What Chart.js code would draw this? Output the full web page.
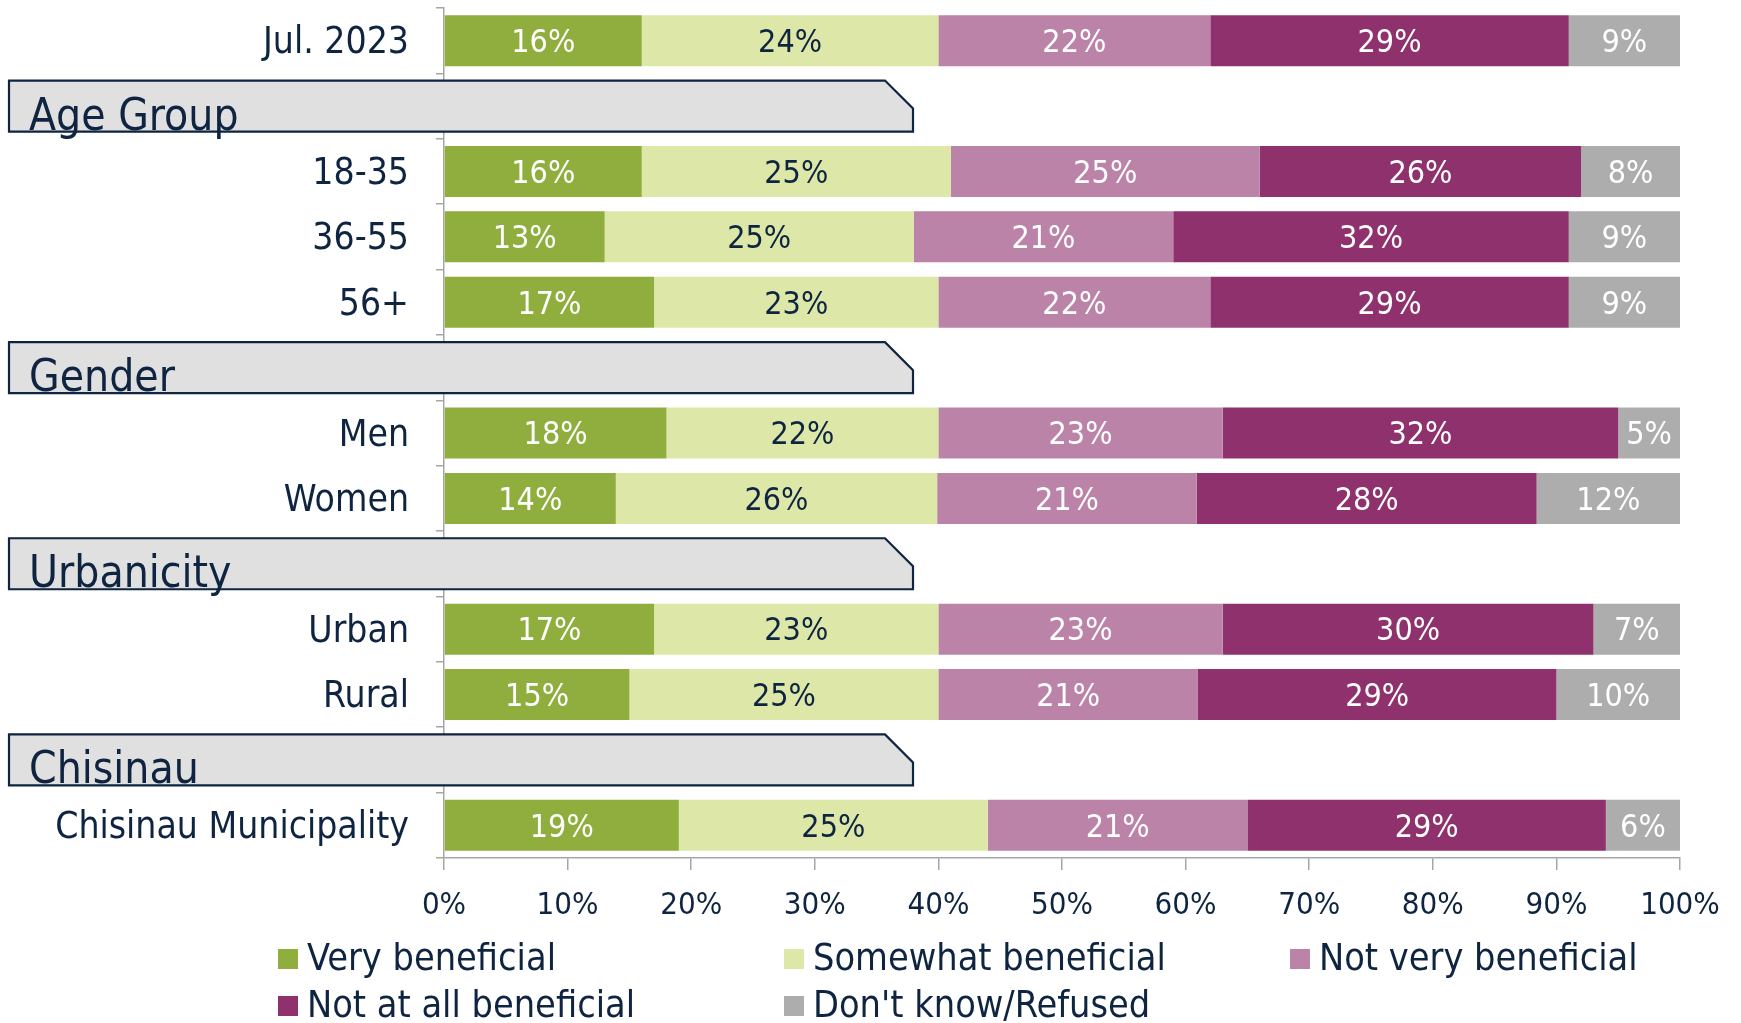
<!DOCTYPE html>
<html lang="en">
<head>
    <meta charset="UTF-8">
    <title>Perceived benefit by group</title>
    <script src="https://cdn.jsdelivr.net/npm/chart.js"></script>
    <style>
        body { margin: 0; background: #fff; }
        #wrap { width: 1741px; height: 1023px; position: relative; }
    </style>
</head>
<body>
    <div id="wrap">
        <canvas id="grafico"></canvas>
    </div>

<script>
    // categories (section headers are rows with no bars)
    const categories = ['Jul. 2023', 'Age Group', '18-35', '36-55', '56+', 'Gender', 'Men', 'Women',
        'Urbanicity', 'Urban', 'Rural', 'Chisinau', 'Chisinau Municipality'];
    const isHeader = [false, true, false, false, false, true, false, false, true, false, false, true, false];

    const seriesNames = ['Very beneficial', 'Somewhat beneficial', 'Not very beneficial',
        'Not at all beneficial', "Don't know/Refused"];

    const veryBeneficial     = [16, null, 16, 13, 17, null, 18, 13.9, null, 17, 15, null, 19];
    const somewhatBeneficial = [24, null, 25, 25, 23, null, 22, 26, null, 23, 25, null, 25];
    const notVeryBeneficial  = [22, null, 25, 21, 22, null, 23, 21, null, 23, 21, null, 21];
    const notAtAllBeneficial = [29, null, 26, 32, 29, null, 32, 27.5, null, 30, 29, null, 29];
    const dontKnow           = [9, null, 8, 9, 9, null, 5, 11.6, null, 7, 10, null, 6];

    const xTicks = [0, 10, 20, 30, 40, 50, 60, 70, 80, 90, 100];

    const cores = ['#8fae3e', '#dde8a8', '#bc83a9', '#8e316c', '#adadad'];
    const corTexto = ['#ffffff', '#0e2441', '#ffffff', '#ffffff', '#ffffff'];
    const navy = '#0e2441';
    const cinza = '#a6a6a6';
    const fonte = '"DejaVu Sans Condensed", "DejaVu Sans", sans-serif';

    const BAR_PCT = 0.78;

    // labels inside the bars
    const rotulos = {
        id: 'rotulos',
        afterDatasetsDraw(chart) {
            const ctx = chart.ctx;
            ctx.save();
            ctx.font = '32px ' + fonte;
            ctx.textAlign = 'center';
            ctx.textBaseline = 'middle';
            chart.data.datasets.forEach((ds, i) => {
                const meta = chart.getDatasetMeta(i);
                meta.data.forEach((el, j) => {
                    const v = ds.data[j];
                    if (v == null) return;
                    ctx.fillStyle = corTexto[i];
                    ctx.fillText(Math.round(v) + '%', (el.x + el.base) / 2, el.y + 3);
                });
            });
            ctx.restore();
        }
    };

    // section header boxes with clipped corner
    const cabecalhos = {
        id: 'cabecalhos',
        afterDraw(chart) {
            const ctx = chart.ctx;
            const y = chart.scales.y;
            const passo = (y.bottom - y.top) / categories.length;
            const meia = passo * BAR_PCT / 2;
            const x0 = 9, x1 = 913, corte = 28;
            ctx.save();
            categories.forEach((nome, i) => {
                if (!isHeader[i]) return;
                const cy = y.getPixelForValue(i);
                const top = cy - meia, bot = cy + meia;
                ctx.beginPath();
                ctx.moveTo(x0, top);
                ctx.lineTo(x1 - corte, top);
                ctx.lineTo(x1, top + corte);
                ctx.lineTo(x1, bot);
                ctx.lineTo(x0, bot);
                ctx.closePath();
                ctx.fillStyle = '#e0e0e0';
                ctx.fill();
                ctx.lineWidth = 2.2;
                ctx.strokeStyle = navy;
                ctx.stroke();
                ctx.fillStyle = navy;
                ctx.font = '44px ' + fonte;
                ctx.textAlign = 'left';
                ctx.textBaseline = 'alphabetic';
                ctx.fillText(nome, 29, bot - 2);
            });
            ctx.restore();
        }
    };

    // legend laid out in 3 columns
    const legenda = {
        id: 'legenda',
        afterDraw(chart) {
            const ctx = chart.ctx;
            const colunas = [278, 784, 1290];
            const linhas = [959, 1006];
            ctx.save();
            ctx.font = '37.5px ' + fonte;
            ctx.textBaseline = 'middle';
            ctx.textAlign = 'left';
            chart.data.datasets.forEach((ds, i) => {
                const cx = colunas[i % 3];
                const cy = linhas[Math.floor(i / 3)];
                ctx.fillStyle = ds.backgroundColor;
                ctx.fillRect(cx, cy - 10, 20, 20);
                ctx.fillStyle = navy;
                ctx.fillText(ds.label, cx + 29, cy + 1);
            });
            ctx.restore();
        }
    };

    const series = [veryBeneficial, somewhatBeneficial, notVeryBeneficial, notAtAllBeneficial, dontKnow];

    new Chart(document.getElementById('grafico'), {
        type: 'bar',
        data: {
            labels: categories,
            datasets: series.map((d, i) => ({
                label: seriesNames[i],
                data: d,
                backgroundColor: cores[i],
                borderWidth: 0,
                barPercentage: BAR_PCT,
                categoryPercentage: 1
            }))
        },
        options: {
            indexAxis: 'y',
            responsive: true,
            maintainAspectRatio: false,
            animation: false,
            layout: { padding: { top: 8, right: 61, left: 0, bottom: 0 } },
            plugins: {
                legend: { display: false },
                tooltip: { enabled: false }
            },
            scales: {
                y: {
                    stacked: true,
                    offset: true,
                    grid: { offset: true, drawOnChartArea: false, tickLength: 8, color: cinza, lineWidth: 1.5 },
                    border: { color: cinza, width: 1.5 },
                    ticks: {
                        autoSkip: false,
                        color: navy,
                        padding: 27,
                        labelOffset: 3,
                        font: { family: fonte, size: 37 },
                        callback: (v, i) => isHeader[i] ? '' : categories[i]
                    },
                    afterFit: s => { s.width = 444; s.paddingTop = 0; s.paddingBottom = 0; }
                },
                x: {
                    stacked: true,
                    min: 0,
                    max: 100,
                    grid: { drawOnChartArea: false, tickLength: 12, color: cinza, lineWidth: 1.5 },
                    border: { color: cinza, width: 1.5 },
                    afterBuildTicks: s => { s.ticks = xTicks.map(v => ({ value: v })); },
                    ticks: {
                        autoSkip: false,
                        maxRotation: 0,
                        color: navy,
                        padding: 17,
                        font: { family: fonte, size: 31 },
                        callback: v => v + '%'
                    },
                    afterFit: s => { s.height = 165; s.paddingLeft = 0; s.paddingRight = 0; }
                }
            }
        },
        plugins: [rotulos, cabecalhos, legenda]
    });
</script>
</body>
</html>
